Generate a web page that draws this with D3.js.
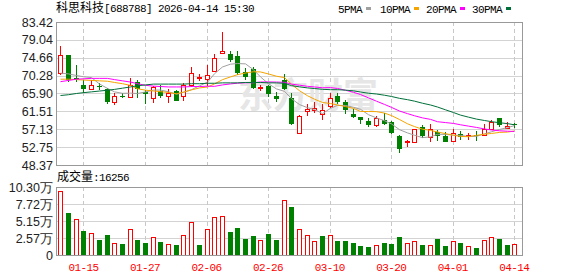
<!DOCTYPE html>
<html>
<head>
<meta charset="utf-8">
<script src="https://cdn.jsdelivr.net/npm/d3@7"></script>
<style>
  body { margin: 0; background: #fff; }
  svg { display: block; }
</style>
</head>
<body>
<svg id="chart" width="578" height="276"></svg>
<script>
// header
var stockName = "科思科技", stockCode = "688788", stamp = "2026-04-14 15:30";

// trading days shown
var dates = [
  "2026-01-12","2026-01-13","2026-01-14","2026-01-15","2026-01-16","2026-01-19","2026-01-20","2026-01-21","2026-01-22","2026-01-23",
  "2026-01-26","2026-01-27","2026-01-28","2026-01-29","2026-01-30","2026-02-02","2026-02-03","2026-02-04","2026-02-05","2026-02-06",
  "2026-02-09","2026-02-10","2026-02-11","2026-02-12","2026-02-13","2026-02-24","2026-02-25","2026-02-26","2026-02-27","2026-03-02",
  "2026-03-03","2026-03-04","2026-03-05","2026-03-06","2026-03-09","2026-03-10","2026-03-11","2026-03-12","2026-03-13","2026-03-16",
  "2026-03-17","2026-03-18","2026-03-19","2026-03-20","2026-03-23","2026-03-24","2026-03-25","2026-03-26","2026-03-27","2026-03-30",
  "2026-03-31","2026-04-01","2026-04-02","2026-04-03","2026-04-07","2026-04-08","2026-04-09","2026-04-10","2026-04-13","2026-04-14"
];
var labelDates = ["2026-01-15","2026-01-27","2026-02-06","2026-02-26","2026-03-10","2026-03-20","2026-04-01","2026-04-14"];

var open = [71.0,75.3,69.8,68.1,67.1,67.7,67.0,63.7,65.4,65.1, 68.6,66.2,64.7,66.6,65.4,66.4,65.3,68.1,69.8,69.4,
            71.4,75.7,75.5,75.1,71.1,71.9,67.4,67.7,65.4,69.1, 64.7,56.1,61.5,61.9,60.8,62.8,65.2,63.7,60.9,60.1,
            59.2,58.2,59.3,58.9,55.5,54.2,53.9,57.6,55.2,56.4, 55.5,54.3,56.0,55.6,55.8,55.7,57.3,59.8,57.4,58.3];
var high = [77.6,75.4,72.9,69.2,69.2,68.4,67.2,65.9,65.9,69.8, 69.1,66.8,67.8,67.9,67.0,66.8,68.4,72.5,70.7,73.0,
            75.5,80.9,76.3,76.4,72.1,72.3,68.1,67.9,66.2,70.6, 66.0,60.6,63.4,63.8,63.2,65.9,66.0,64.3,62.1,60.2,
            59.8,60.5,61.0,59.2,55.8,54.6,57.3,58.2,58.5,57.0, 56.4,57.2,56.8,56.1,56.6,58.3,59.5,59.9,59.0,58.6];
var low  = [70.4,68.8,68.6,66.0,66.8,66.8,63.4,63.1,64.9,64.9, 64.9,63.3,63.5,64.9,63.6,64.0,64.0,67.6,69.0,67.8,
            71.1,75.5,73.5,70.4,69.1,67.0,66.6,65.0,63.9,66.7, 58.1,56.0,60.3,61.1,59.5,62.4,63.3,60.9,59.9,58.3,
            57.8,57.7,58.1,55.9,51.4,52.8,53.8,55.0,54.1,54.2, 54.1,54.0,54.4,54.4,54.3,55.6,57.2,57.6,57.3,57.5];
var close = [75.3,69.3,69.5,67.0,67.9,67.4,63.9,65.3,65.2,68.1, 67.0,65.8,67.5,65.3,66.0,64.1,68.0,70.8,70.0,70.4,
            74.5,76.3,74.2,70.8,70.0,67.3,67.5,65.8,64.5,67.0, 58.3,60.3,62.0,62.3,61.9,64.8,63.9,61.9,60.1,59.4,
            58.2,60.0,58.4,56.2,52.3,54.3,57.1,55.5,57.1,55.5, 54.1,56.2,55.3,55.7,55.6,57.2,58.8,58.1,57.9,58.15];
// volume, lots
var volume = [97000,63000,54000,36000,34000,23000,31000,18000,16700,40000, 23000,18000,28000,19000,16000,15000,30000,50500,15000,40000,
              57000,58500,35000,41000,24000,29000,22000,32000,23000,83000, 72000,39000,30000,21000,29000,31000,21000,21000,18000,13600,
              12000,15000,18000,16700,27000,17700,20700,15000,15000,24000, 13600,20700,18000,13600,10600,22000,27000,24000,15000,16256];

var ma5  = [70.9,70.7,70.3,70.0,69.8,68.22,67.14,66.3,65.94,65.98, 65.9,66.28,66.72,66.74,66.32,65.74,66.18,66.84,67.78,68.66,
            70.74,72.4,73.08,73.24,73.16,71.72,69.96,68.28,67.02,66.42, 64.62,63.18,62.42,61.98,60.96,62.26,62.98,62.96,62.52,62.02,
            60.7,59.92,59.22,58.44,57.02,56.24,55.66,55.08,55.26,55.9, 55.86,55.68,55.64,55.36,55.38,56.0,56.52,57.08,57.52,58.03];
var ma10 = [69.4,69.4,69.3,69.2,69.1,69.0,68.9,68.6,68.3,67.89, 67.06,66.71,66.51,66.34,66.15,65.82,66.23,66.78,67.26,67.49,
            68.24,69.29,69.96,70.51,70.91,71.23,71.18,70.68,70.13,69.79, 68.17,66.57,65.35,64.5,63.69,63.44,63.08,62.69,62.25,61.49,
            61.48,61.45,61.09,60.48,59.52,58.47,57.79,57.15,56.85,56.46, 56.05,55.67,55.36,55.31,55.64,55.93,56.1,56.36,56.44,56.71];
var ma20 = [68.8,69.1,69.4,69.5,69.6,69.6,69.6,69.3,69.0,68.7, 68.3,67.9,67.7,67.6,67.5,67.5,67.5,67.6,67.6,67.69,
            67.65,68.0,68.24,68.43,68.53,68.53,68.71,68.73,68.7,68.64, 68.2,67.93,67.66,67.5,67.3,67.34,67.13,66.69,66.19,65.64,
            64.83,64.01,63.22,62.49,61.6,60.96,60.44,59.92,59.55,58.98, 58.77,58.56,58.23,57.9,57.58,57.2,56.95,56.76,56.65,56.59];
var ma30 = [65.4,65.6,65.9,66.1,66.3,66.5,66.7,66.9,67.2,67.5, 67.8,68.0,68.2,68.2,68.2,68.2,68.2,68.3,68.3,68.4,
            68.4,68.5,68.5,68.5,68.6,68.6,68.6,68.5,68.5,68.39, 67.82,67.52,67.27,67.12,66.92,66.83,66.83,66.72,66.55,66.26,
            65.96,65.77,65.47,65.16,64.71,64.38,64.02,63.51,63.08,62.58, 61.9,61.23,60.6,60.1,59.62,59.28,58.99,58.73,58.51,58.22];
var maNames = ["5PMA", "10PMA", "20PMA", "30PMA"];

var priceTicks = [48.37, 52.75, 57.13, 61.51, 65.90, 70.28, 74.66, 79.04, 83.42];
var volTicks = [0, 25750, 51500, 77250, 103000];
var volTickLabels = ["0", "2.57万", "5.15万", "7.72万", "10.30万"];

var RED = "#ff0000", GREEN = "#008000";
var maColors = ["#a0a0a0", "#f5a400", "#ff00ff", "#00703a"];
var MONO = "'Liberation Mono', monospace", CJK = "'Noto Sans CJK SC', sans-serif";

var svg = d3.select("#chart");
var pLeft = 56, pRight = 522, pTop = 22, pBot = 165, vTop = 187, vBot = 255;

var x = d3.scaleBand().domain(dates).range([56.5, 518.2]);
var y = d3.scaleLinear().domain([priceTicks[0], priceTicks[priceTicks.length - 1]]).range([pBot, pTop]);
var yv = d3.scaleLinear().domain([0, volTicks[volTicks.length - 1]]).range([vBot, vTop]);
function cx(d) { return Math.round(x(d) + x.bandwidth() / 2); }
function px(v) { return Math.round(v) + 0.5; }

var rows = dates.map(function (d, i) {
  return {date: d, o: open[i], h: high[i], l: low[i], c: close[i], v: volume[i],
          volUp: i === 0 ? close[i] >= open[i] : close[i] >= close[i - 1]};
});

// grids
var grid = svg.append("g").attr("stroke", "#d3d3d3").attr("shape-rendering", "crispEdges");
grid.selectAll(".hp").data(priceTicks.slice(1, -1)).enter().append("line")
  .attr("x1", pLeft).attr("x2", pRight)
  .attr("y1", function (d) { return px(y(d)); }).attr("y2", function (d) { return px(y(d)); });
grid.selectAll(".hv").data(volTicks.slice(1, -1)).enter().append("line")
  .attr("x1", pLeft).attr("x2", pRight)
  .attr("y1", function (d) { return px(yv(d)); }).attr("y2", function (d) { return px(yv(d)); });
[[pTop, pBot], [vTop, vBot]].forEach(function (r) {
  grid.append("g").selectAll("line").data(labelDates).enter().append("line")
    .attr("x1", function (d) { return cx(d) + 0.5; }).attr("x2", function (d) { return cx(d) + 0.5; })
    .attr("y1", r[0]).attr("y2", r[1])
    .attr("stroke", "#c8c8c8").attr("stroke-dasharray", "4,3");
});

// watermark
svg.append("text").attr("x", 238).attr("y", 108)
  .attr("font-family", CJK).attr("font-size", 35).attr("font-weight", "bold")
  .attr("fill", "#e6e6e6").text("东方财富");

// candles
var k = svg.append("g").attr("shape-rendering", "crispEdges");
var candle = k.selectAll("g").data(rows).enter().append("g");
candle.append("line")
  .attr("x1", function (d) { return cx(d.date) + 0.5; }).attr("x2", function (d) { return cx(d.date) + 0.5; })
  .attr("y1", function (d) { return Math.round(y(d.h)); }).attr("y2", function (d) { return Math.round(y(d.l)); })
  .attr("stroke", function (d) { return d.c >= d.o ? RED : GREEN; });
candle.append("rect")
  .attr("x", function (d) { return d.c >= d.o ? cx(d.date) - 1.5 : cx(d.date) - 2; })
  .attr("width", function (d) { return d.c >= d.o ? 4 : 5; })
  .attr("y", function (d) { return Math.round(y(Math.max(d.o, d.c))) + (d.c >= d.o ? 0.5 : 0); })
  .attr("height", function (d) { return Math.max(1, Math.round(y(Math.min(d.o, d.c))) - Math.round(y(Math.max(d.o, d.c)))); })
  .attr("fill", function (d) { return d.c >= d.o ? "#fff" : GREEN; })
  .attr("stroke", function (d) { return d.c >= d.o ? RED : "none"; });

// moving averages
var line = d3.line().x(function (d) { return cx(d[0]) + 0.5; }).y(function (d) { return y(d[1]); });
[ma5, ma10, ma20, ma30].forEach(function (m, j) {
  svg.append("path").datum(dates.map(function (d, i) { return [d, m[i]]; }))
    .attr("d", line).attr("fill", "none").attr("stroke", maColors[j]).attr("stroke-width", 1);
});

// volume bars
svg.append("g").attr("shape-rendering", "crispEdges").selectAll("rect").data(rows).enter().append("rect")
  .attr("x", function (d) { return d.volUp ? cx(d.date) - 1.5 : cx(d.date) - 2; })
  .attr("width", function (d) { return d.volUp ? 4 : 5; })
  .attr("y", function (d) { return Math.round(yv(d.v)) + (d.volUp ? 0.5 : 0); })
  .attr("height", function (d) { return vBot - Math.round(yv(d.v)) - (d.volUp ? 0.5 : 0); })
  .attr("fill", function (d) { return d.volUp ? "#fff" : GREEN; })
  .attr("stroke", function (d) { return d.volUp ? RED : "none"; });

// frames
[[pTop, pBot], [vTop, vBot]].forEach(function (r) {
  svg.append("rect").attr("x", pLeft + 0.5).attr("y", r[0] + 0.5)
    .attr("width", pRight - pLeft).attr("height", r[1] - r[0])
    .attr("fill", "none").attr("stroke", "#999").attr("shape-rendering", "crispEdges");
});

// axes
function styleAxis(g, fam, size, color) {
  g.select(".domain").remove();
  g.selectAll("text").attr("font-family", fam).attr("font-size", size).attr("fill", color);
}
svg.append("g").attr("transform", "translate(" + pLeft + ",0)")
  .call(d3.axisLeft(y).tickValues(priceTicks).tickFormat(d3.format(".2f")).tickSize(0).tickPadding(3))
  .call(styleAxis, "'Liberation Sans', sans-serif", 12.5, "#222");
svg.append("g").attr("transform", "translate(" + pLeft + ",0)")
  .call(d3.axisLeft(yv).tickValues(volTicks).tickFormat(function (d, i) { return volTickLabels[i]; }).tickSize(0).tickPadding(3))
  .call(styleAxis, "'Liberation Sans', sans-serif", 12.5, "#222");
svg.append("g").attr("transform", "translate(0," + vBot + ")")
  .call(d3.axisBottom(x).tickValues(labelDates).tickFormat(function (d) { return d.slice(5); }).tickSize(0).tickPadding(8))
  .call(styleAxis, MONO, 11, RED)
  .selectAll("text").attr("letter-spacing", "-0.6px");

// header line
var title = svg.append("text").attr("x", pLeft).attr("y", 12).attr("fill", "#000");
title.append("tspan").attr("font-family", CJK).attr("font-size", 12).text(stockName);
title.append("tspan").attr("font-family", MONO).attr("font-size", 11).attr("letter-spacing", "-0.6px")
  .text("[" + stockCode + "] " + stamp);

// legend
var legX = [338, 380, 426, 472];
maNames.forEach(function (n, j) {
  svg.append("text").attr("x", legX[j]).attr("y", 12.5)
    .attr("font-family", MONO).attr("font-size", 11).attr("letter-spacing", "-0.6px").attr("fill", "#000").text(n);
  svg.append("rect").attr("x", legX[j] + n.length * 6 + 4).attr("y", 7).attr("width", 5).attr("height", 3)
    .attr("fill", maColors[j]);
});

// volume caption
var cap = svg.append("text").attr("x", pLeft + 1).attr("y", 181).attr("fill", "#000");
cap.append("tspan").attr("font-family", CJK).attr("font-size", 12).text("成交量");
cap.append("tspan").attr("font-family", MONO).attr("font-size", 11).attr("letter-spacing", "-0.6px")
  .text(":" + volume[volume.length - 1]);
</script>
</body>
</html>
